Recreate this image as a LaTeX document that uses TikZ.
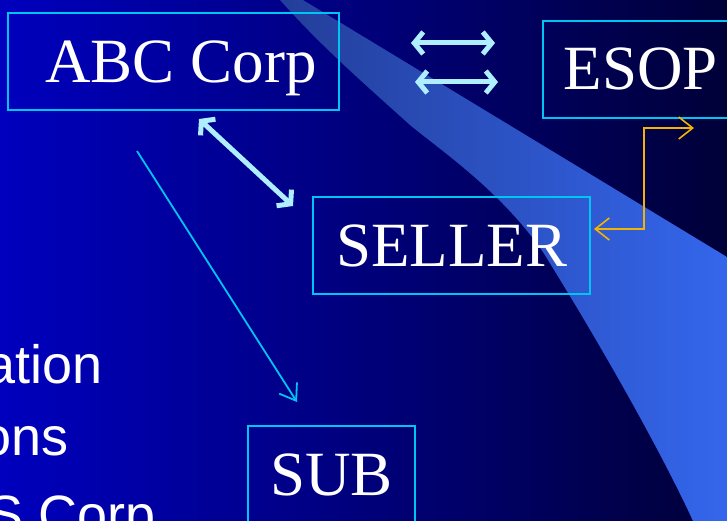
\documentclass[tikz,border=0pt]{standalone}
\usepackage{fontspec}
\setmainfont{Liberation Serif}
\newfontfamily\arialfont{Liberation Sans}
\usetikzlibrary{arrows.meta}

\definecolor{bgleft}{HTML}{0000BE}
\definecolor{bgright}{HTML}{000038}
\definecolor{swleft}{HTML}{233E9A}
\definecolor{swright}{HTML}{3466EC}
\definecolor{frame}{HTML}{00C4F2}
\definecolor{ice}{HTML}{AEEEFF}
\definecolor{gold}{HTML}{F2B400}

\begin{document}
\begin{tikzpicture}[x=1pt, y=-1pt,
    box/.style={draw=frame, line width=2pt, inner sep=0pt, text=white,
        font=\fontsize{63}{63}\selectfont, text height=41pt, text depth=0pt,
        minimum height=97pt},
    fat/.style={ice, line width=5pt, {Straight Barb[length=9pt,width=22pt]}-{Straight Barb[length=9pt,width=22pt]}},
    slim/.style={frame, line width=1.8pt, -{Straight Barb[length=15pt,width=21pt]}},
    elbow/.style={gold, line width=1.6pt, {Straight Barb[length=14pt,width=22pt]}-{Straight Barb[length=14pt,width=22pt]}},
    side/.style={text=white, font=\arialfont\fontsize{54}{54}\selectfont, inner sep=0pt, anchor=base east}]

    \useasboundingbox (0,0) rectangle (727,521);

    % --- 1. Background and the light swoosh ---
    \shade[left color=bgleft, right color=bgright] (0,0) rectangle (727,521);
    \shade[left color=swleft, right color=swright]
        (280,0) -- (303,0) -- (727,257) -- (727,521) -- (693,521)
        .. controls (665,460) and (610,360) .. (543,252)
        .. controls (500,190) and (440,150) .. (410,125)
        .. controls (360,80) and (320,45) .. (280,0) -- cycle;

    % --- 2. The boxes ---
    \node[box, minimum width=331pt] (abc) at (173,62) {\hspace*{16pt}ABC Corp};
    \node[box, minimum width=192pt] (esop) at (639,69.5) {\hspace*{4pt}ESOP};
    \node[box, minimum width=277pt] (seller) at (451.5,245.5) {SELLER};
    \node[box, minimum width=167pt] (sub) at (331.5,474.5) {SUB};

    % left column text, cut off by the page edge
    \node[side] (t1) at (103,383) {ation};
    \node[side] (t2) at (69,455) {ons};
    \node[side] (t3) at (156,533) {S Corp};

    % --- 3. Arrow ends ---
    \coordinate (swap1) at (411,43);   % upper pair, left end
    \coordinate (swap2) at (495,43);
    \coordinate (swap3) at (415,82);   % lower pair, left end
    \coordinate (swap4) at (498,82);
    \coordinate (abcS) at (199,119);   % under ABC Corp
    \coordinate (sellNW) at (293,206); % before SELLER
    \coordinate (abcL) at (137,151);
    \coordinate (subN) at (297,402);   % above SUB
    \coordinate (sellE) at (594,229);
    \coordinate (esopS) at (694,128);

    % --- 4. Connectors ---
    \draw[fat] (swap1) -- (swap2);
    \draw[fat] (swap3) -- (swap4);
    \draw[fat] (abcS) -- (sellNW);
    \draw[slim] (abcL) -- (subN);
    \draw[elbow] (sellE) -- ++(50,0) |- (esopS);

\end{tikzpicture}
\end{document}
